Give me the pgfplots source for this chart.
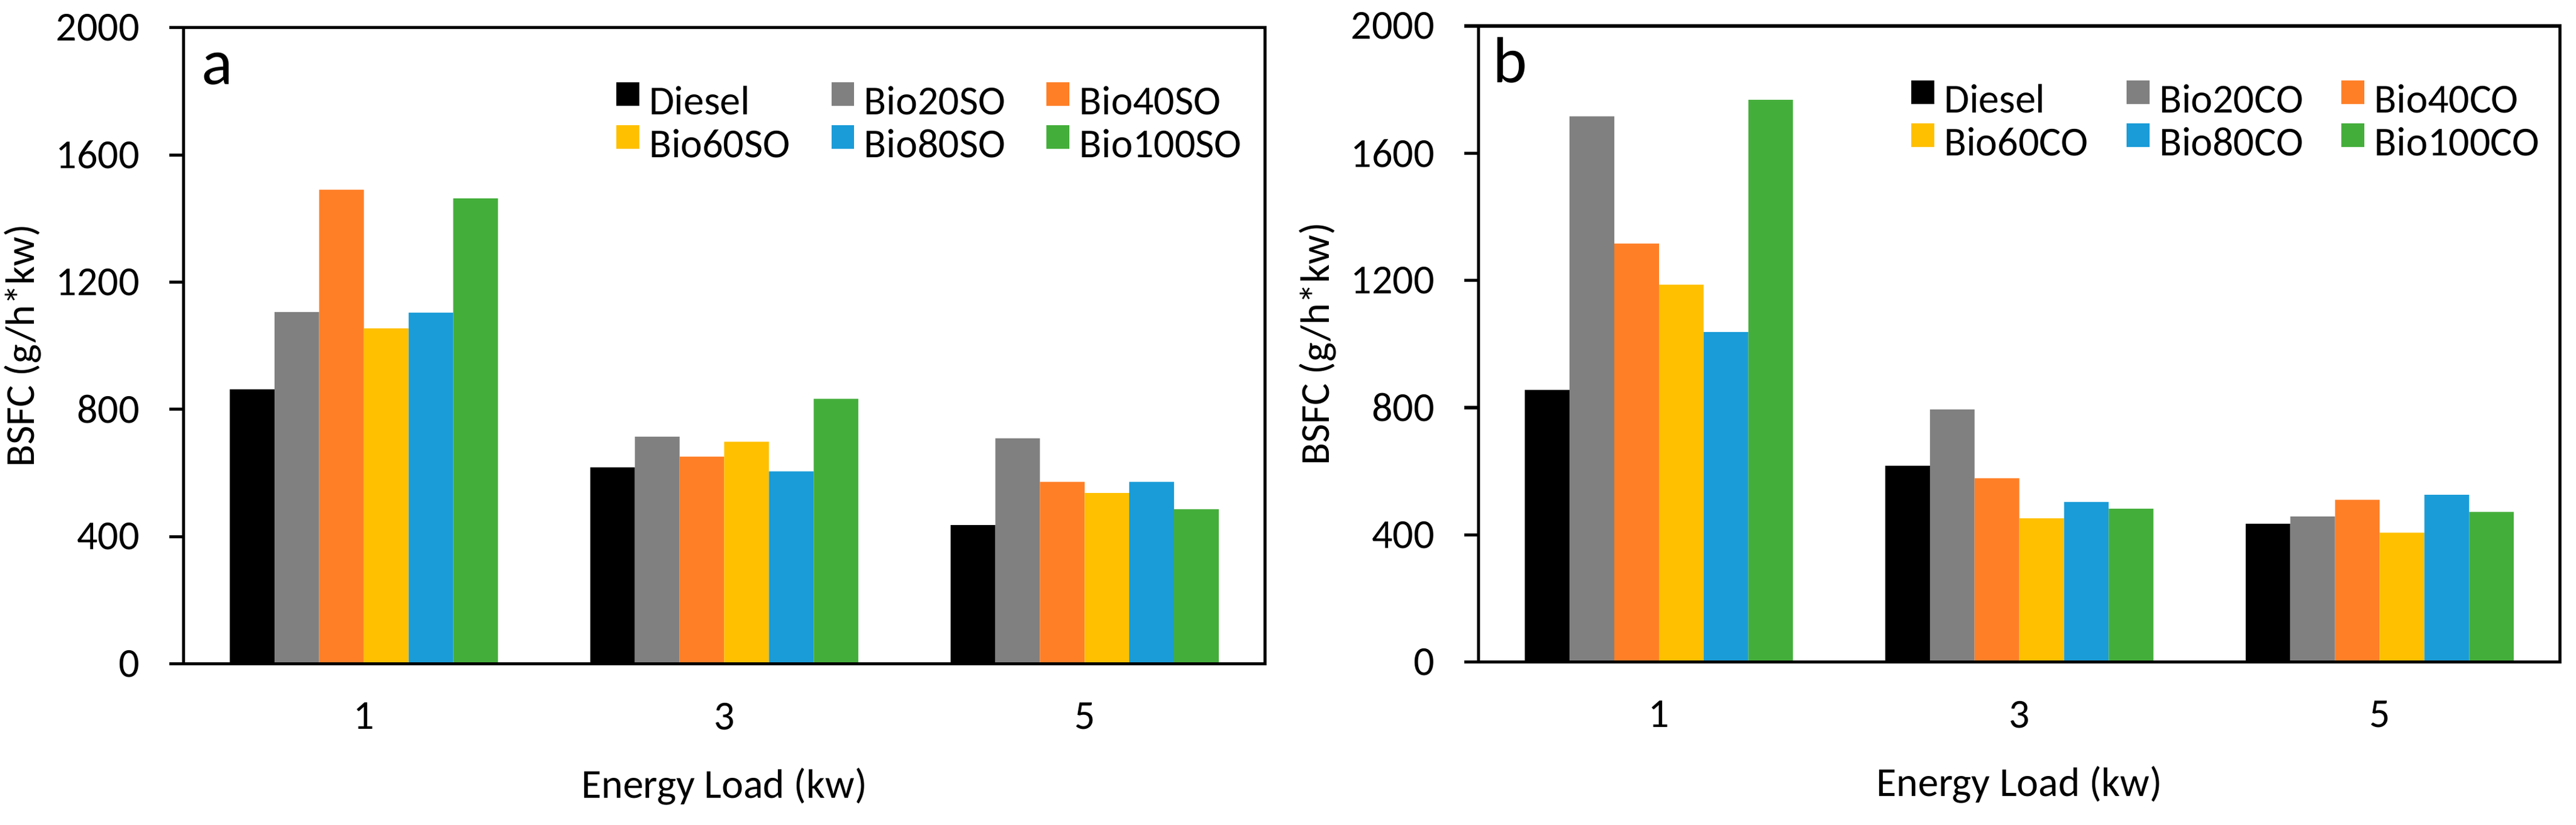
\documentclass[border=0pt]{standalone}
\usepackage{fontspec}
\setmainfont{Carlito}
\usepackage{pgfplots}
\pgfplotsset{compat=1.18}
\definecolor{cblack}{HTML}{000000}
\definecolor{cgray}{HTML}{808080}
\definecolor{corange}{HTML}{FF7F27}
\definecolor{cyellow}{HTML}{FFC000}
\definecolor{cblue}{HTML}{1A9CD8}
\definecolor{cgreen}{HTML}{44AE3B}
\pgfplotsset{
  bs/.style={fill=#1, draw=none, legend image code/.code={%
    \path[use as bounding box, fill=none, draw=none] (0pt,-4.35pt) rectangle (6.7pt,10.15pt);
    \fill[#1] (0pt,-1.65pt) rectangle (6.7pt,5.25pt);}},
  myax/.style={
    scale only axis, width=315.5pt, height=185.6pt,
    ybar=0pt, bar width=0.124,
    xmin=-0.5, xmax=2.5, ymin=0, ymax=2000,
    xtick={0,1,2}, xticklabels={1,3,5},
    ytick={0,400,800,1200,1600,2000},
    scaled y ticks=false,
    /pgf/number format/assume math mode=true,
    /pgf/number format/1000 sep={},
    axis on top,
    axis line style={line width=0.9pt, black},
    tick align=outside, major tick length=4.2pt,
    ytick pos=left, xtick pos=bottom,
    x tick style={draw=none},
    y tick style={line width=0.9pt, black},
    yticklabel style={anchor=east, inner sep=0pt, xshift=-8.5pt},
    xticklabel style={anchor=north, inner sep=0pt, yshift=-7pt},
    xlabel={Energy Load (kw)},
    ylabel={BSFC (g/h*kw)},
    xlabel style={at={(axis description cs:0.5,-0.193)}, anchor=center},
    ylabel style={at={(axis description cs:-0.149,0.5)}, anchor=center},
    legend columns=3,
    legend style={at={(rel axis cs:0.40,0.9406)}, anchor=north west,
      draw=none, fill=none, inner sep=0pt, outer sep=0pt, row sep=-3.6pt,
      nodes={inner sep=0pt},
      /tikz/every odd column/.style={column sep=2.9pt},
      /tikz/every even column/.style={column sep=0pt}},
  }
}
\newcommand{\lt}[1]{\makebox[53.2pt][l]{\strut #1}}
\begin{document}
\fontsize{12}{14.5}\selectfont
\begin{tikzpicture}
\useasboundingbox (0,0) rectangle (751.7pt,240.7pt);
\begin{axis}[myax, at={(53.6pt,47pt)}, anchor=south west]
\addplot[bs=cblack]  coordinates {(0,863) (1,618) (2,436)};
\addplot[bs=cgray]   coordinates {(0,1106) (1,714) (2,709)};
\addplot[bs=corange] coordinates {(0,1491) (1,651) (2,572)};
\addplot[bs=cyellow] coordinates {(0,1055) (1,698) (2,537)};
\addplot[bs=cblue]   coordinates {(0,1104) (1,605) (2,572)};
\addplot[bs=cgreen]  coordinates {(0,1463) (1,833) (2,486)};
\legend{\lt{Diesel},\lt{Bio20SO},\lt{Bio40SO},\lt{Bio60SO},\lt{Bio80SO},\lt{Bio100SO}}
\node[anchor=base west, inner sep=0pt, font=\fontsize{19}{19}\selectfont] at (rel axis cs:0,1) [xshift=5pt, yshift=-16.5pt] {a};
\end{axis}
\begin{axis}[myax, at={(431.5pt,47.5pt)}, anchor=south west]
\addplot[bs=cblack]  coordinates {(0,856) (1,617) (2,435)};
\addplot[bs=cgray]   coordinates {(0,1716) (1,794) (2,458)};
\addplot[bs=corange] coordinates {(0,1316) (1,578) (2,510)};
\addplot[bs=cyellow] coordinates {(0,1187) (1,452) (2,407)};
\addplot[bs=cblue]   coordinates {(0,1038) (1,503) (2,526)};
\addplot[bs=cgreen]  coordinates {(0,1768) (1,482) (2,472)};
\legend{\lt{Diesel},\lt{Bio20CO},\lt{Bio40CO},\lt{Bio60CO},\lt{Bio80CO},\lt{Bio100CO}}
\node[anchor=base west, inner sep=0pt, font=\fontsize{19}{19}\selectfont] at (rel axis cs:0,1) [xshift=4pt, yshift=-16.5pt] {b};
\end{axis}
\end{tikzpicture}
\end{document}
